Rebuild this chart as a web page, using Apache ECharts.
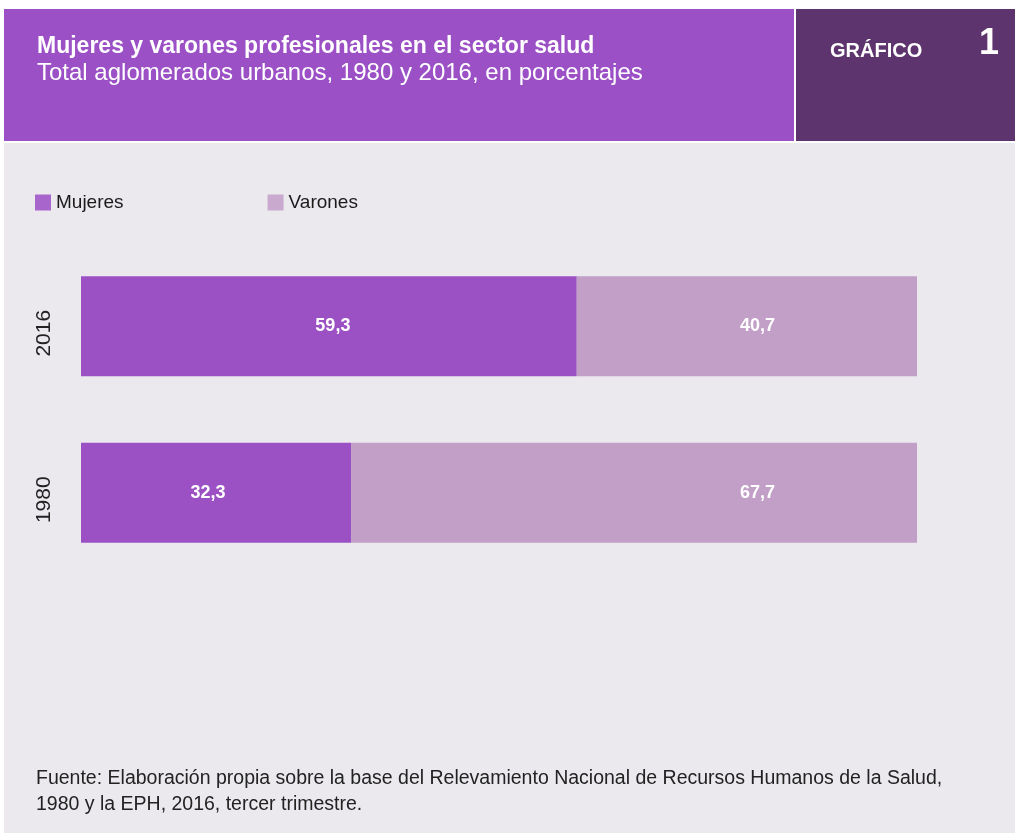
<!DOCTYPE html>
<html>
<head>
<meta charset="utf-8">
<script src="https://cdn.jsdelivr.net/npm/echarts@6/dist/echarts.min.js"></script>
<style>
html, body { margin: 0; padding: 0; background: #fff; }
#chart { width: 1015px; height: 833px; }
</style>
</head>
<body>
<div id="chart"></div>
<script>
// datos
var anios = ['1980', '2016'];
var mujeres = [32.3, 59.3];
var varones = [67.7, 40.7];

var fuente = 'Liberation Sans';
// pequeño corrimiento de las etiquetas de mujeres, como en el original
var corrimiento = [-8, 4];

function coma(p) {
    return String(p.value).replace('.', ',');
}

var etiqueta = {
    show: true,
    color: '#fff',
    fontWeight: 'bold',
    fontSize: 18,
    fontFamily: fuente,
    formatter: coma
};

var myChart = echarts.init(document.getElementById('chart'));
var option = {
    backgroundColor: '#ffffff',
    animation: false,
    graphic: [
        // cabecera
        { type: 'rect', shape: { x: 4, y: 9, width: 790, height: 132 }, style: { fill: '#9b50c5' } },
        { type: 'rect', shape: { x: 796, y: 9, width: 219, height: 132 }, style: { fill: '#5d346e' } },
        { type: 'rect', shape: { x: 4, y: 143, width: 1011, height: 690 }, style: { fill: '#ebe9ee' } },
        { type: 'text', left: 37, top: 35, style: { text: 'Mujeres y varones profesionales en el sector salud', fill: '#fff', font: 'bold 23px ' + fuente } },
        { type: 'text', left: 37, top: 61, style: { text: 'Total aglomerados urbanos, 1980 y 2016, en porcentajes', fill: '#fff', font: '24px ' + fuente } },
        { type: 'text', left: 830, top: 41, style: { text: 'GRÁFICO', fill: '#fff', font: 'bold 20px ' + fuente } },
        { type: 'text', left: 979, top: 26, style: { text: '1', fill: '#fff', font: 'bold 36px ' + fuente } },
        // fuente
        { type: 'text', left: 36, top: 766, style: { text: 'Fuente: Elaboración propia sobre la base del Relevamiento Nacional de Recursos Humanos de la Salud,\n1980 y la EPH, 2016, tercer trimestre.', fill: '#222', font: '19.5px ' + fuente, lineHeight: 26 } }
    ],
    legend: {
        left: 35,
        top: 193,
        padding: 0,
        itemWidth: 16,
        itemHeight: 16,
        itemGap: 144,
        icon: 'rect',
        textStyle: { fontSize: 19, color: '#1a1a1a', fontFamily: fuente },
        data: [
            { name: 'Mujeres', itemStyle: { color: '#a866cc' } },
            { name: 'Varones', itemStyle: { color: '#c9aace' } }
        ]
    },
    grid: {
        left: 81,
        right: 98,
        top: 243,
        bottom: 257
    },
    xAxis: {
        type: 'value',
        min: 0,
        max: 100,
        show: false
    },
    yAxis: {
        type: 'category',
        data: anios,
        axisLine: { show: false },
        axisTick: { show: false },
        axisLabel: {
            rotate: 90,
            margin: 26,
            fontSize: 21,
            color: '#222',
            fontFamily: fuente,
            padding: [0, 14, 0, 0]
        }
    },
    series: [
        {
            name: 'Mujeres',
            type: 'bar',
            stack: 'total',
            barWidth: 100,
            data: mujeres.map(function (v, i) {
                return { value: v, label: { offset: [corrimiento[i], 0] } };
            }),
            itemStyle: { color: '#9b50c4' },
            label: echarts.util.extend({ position: 'inside' }, etiqueta)
        },
        {
            name: 'Varones',
            type: 'bar',
            stack: 'total',
            barWidth: 100,
            data: varones,
            itemStyle: { color: '#c29fc7' },
            label: echarts.util.extend({ position: 'insideRight', distance: 142 }, etiqueta)
        }
    ]
};
myChart.setOption(option);
</script>
</body>
</html>
